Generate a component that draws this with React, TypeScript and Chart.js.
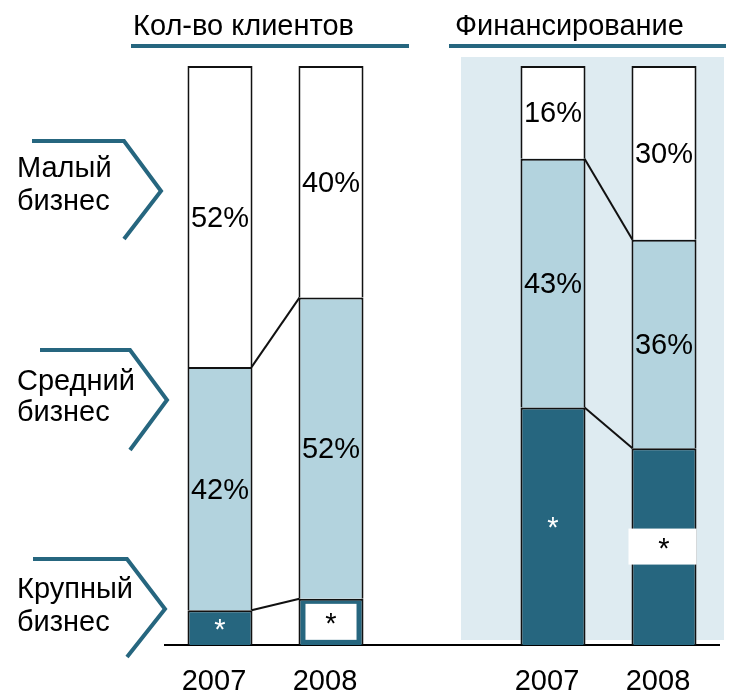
import React, { useEffect, useRef } from 'react';
import { Chart, registerables } from 'chart.js';

Chart.register(...registerables);

// ---- data ----
const categories = ['2007', '2008', '', '2007', '2008'];
const largeShare = [6, 8, null, 41, 34];
const mediumShare = [42, 52, null, 43, 36];
const smallShare = [52, 40, null, 16, 30];
const boxedStar = [false, true, false, false, true];
const panelTitles = ['Кол-во клиентов', 'Финансирование'];
const segmentNames = [
  ['Малый', 'бизнес'],
  ['Средний', 'бизнес'],
  ['Крупный', 'бизнес'],
];

// ---- styles ----
const DARK = '#26667F';
const LIGHT = '#B3D3DE';
const PANEL = '#DEEBF1';
const EDGE = '#111111';
const FONT = '"Liberation Sans", Arial, Helvetica, sans-serif';
const FS = 29;

const decorPlugin = {
  id: 'decor',
  beforeDatasetsDraw(chart: any) {
    const { ctx, scales } = chart;
    const x = scales.x;
    const y = scales.y;
    ctx.save();
    ctx.fillStyle = PANEL;
    const left = x.getPixelForValue(3) - 92;
    const right = x.getPixelForValue(4) + 60;
    const top = y.getPixelForValue(100) - 9;
    const bottom = y.getPixelForValue(0) - 5;
    ctx.fillRect(left, top, right - left, bottom - top);
    ctx.restore();
  },
  afterDatasetsDraw(chart: any) {
    const { ctx } = chart;
    const metas = [0, 1, 2].map((i) => chart.getDatasetMeta(i));
    ctx.save();
    // connectors
    ctx.strokeStyle = EDGE;
    ctx.lineWidth = 2;
    for (const [a, b] of [[0, 1], [3, 4]]) {
      for (const di of [0, 1]) {
        const ea = metas[di].data[a];
        const eb = metas[di].data[b];
        ctx.beginPath();
        ctx.moveTo(ea.x + ea.width / 2 - 1, ea.y);
        ctx.lineTo(eb.x - eb.width / 2 + 1, eb.y);
        ctx.stroke();
      }
    }
    // segment labels
    ctx.font = `${FS}px ${FONT}`;
    ctx.textAlign = 'center';
    const series = [largeShare, mediumShare, smallShare];
    for (let di = 0; di < 3; di++) {
      const meta = metas[di];
      meta.data.forEach((el: any, i: number) => {
        const v = series[di][i];
        if (v == null) return;
        const cy = (el.y + el.base) / 2;
        if (di === 0) {
          if (boxedStar[i]) {
            const segH = el.base - el.y;
            let bx, bw;
            if (segH < 60) {
              bx = el.x - el.width / 2 + 7;
              bw = el.width - 14;
            } else {
              bx = el.x - el.width / 2 - 3;
              bw = el.width + 3;
            }
            const bh = 36;
            ctx.fillStyle = '#FFFFFF';
            ctx.fillRect(bx, cy - bh / 2, bw, bh);
            ctx.fillStyle = '#000000';
          } else {
            ctx.fillStyle = '#FFFFFF';
          }
          ctx.textBaseline = 'alphabetic';
          ctx.fillText('*', el.x, cy + 11);
        } else {
          ctx.fillStyle = '#000000';
          ctx.textBaseline = 'middle';
          ctx.fillText(`${v}%`, el.x, cy + 2);
        }
      });
    }
    ctx.restore();
  },
  afterDraw(chart: any) {
    const { ctx } = chart;
    ctx.save();
    // titles
    ctx.font = `${FS}px ${FONT}`;
    ctx.fillStyle = '#000000';
    ctx.textAlign = 'left';
    ctx.textBaseline = 'alphabetic';
    ctx.fillText(panelTitles[0], 133, 35);
    ctx.fillText(panelTitles[1], 455, 35);
    ctx.fillStyle = DARK;
    ctx.fillRect(131, 44, 278, 4);
    ctx.fillRect(449, 44, 277, 4);
    // left labels with chevrons
    const rows = [
      { lx: 17, b1: 177, b2: 210, hx0: 32, hx1: 124, hy: 141, px: 161, py: 191, by: 239 },
      { lx: 17, b1: 390, b2: 421, hx0: 40, hx1: 130, hy: 350, px: 167, py: 400, by: 450 },
      { lx: 17, b1: 598, b2: 631, hx0: 33, hx1: 127, hy: 559, px: 165, py: 609, by: 657 },
    ];
    rows.forEach((r, i) => {
      ctx.fillStyle = '#000000';
      ctx.fillText(segmentNames[i][0], r.lx, r.b1);
      ctx.fillText(segmentNames[i][1], r.lx, r.b2);
      ctx.strokeStyle = DARK;
      ctx.lineWidth = 4;
      ctx.lineJoin = 'miter';
      ctx.beginPath();
      ctx.moveTo(r.hx0, r.hy);
      ctx.lineTo(r.hx1, r.hy);
      ctx.lineTo(r.px, r.py);
      ctx.lineTo(r.hx1, r.by);
      ctx.stroke();
    });
    ctx.restore();
  },
};

export default function App() {
  const ref = useRef<HTMLCanvasElement | null>(null);
  useEffect(() => {
    if (!ref.current) return;
    const common = {
      borderColor: EDGE,
      borderSkipped: false as const,
      barPercentage: 0.586,
      categoryPercentage: 1,
      borderWidth: { left: 2, right: 2, top: 2, bottom: 0 },
    };
    const chart = new Chart(ref.current, {
      type: 'bar',
      data: {
        labels: categories,
        datasets: [
          { ...common, label: 'Крупный бизнес', data: largeShare, backgroundColor: DARK },
          { ...common, label: 'Средний бизнес', data: mediumShare, backgroundColor: LIGHT },
          { ...common, label: 'Малый бизнес', data: smallShare, backgroundColor: '#FFFFFF' },
        ],
      } as any,
      options: {
        responsive: false,
        animation: false,
        events: [],
        layout: { padding: { left: 164.5, right: 10.5, top: 66, bottom: 0 } },
        plugins: { legend: { display: false }, tooltip: { enabled: false } },
        scales: {
          x: {
            stacked: true,
            grid: { display: false, drawTicks: false },
            border: { display: true, color: '#000000', width: 2 },
            ticks: {
              color: '#000000',
              font: { size: FS, family: FONT },
              padding: 20,
              labelOffset: -6,
              maxRotation: 0,
              autoSkip: false,
            },
            afterFit: (s: any) => {
              s.height = 49;
            },
          },
          y: { stacked: true, display: false, min: 0, max: 100 },
        },
      } as any,
      plugins: [decorPlugin],
    });
    return () => chart.destroy();
  }, []);
  return (
    <div style={{ position: 'fixed', left: 0, top: 0, width: 730, height: 694, background: '#FFFFFF' }}>
      <canvas ref={ref} width={730} height={694} style={{ display: 'block' }} />
    </div>
  );
}
